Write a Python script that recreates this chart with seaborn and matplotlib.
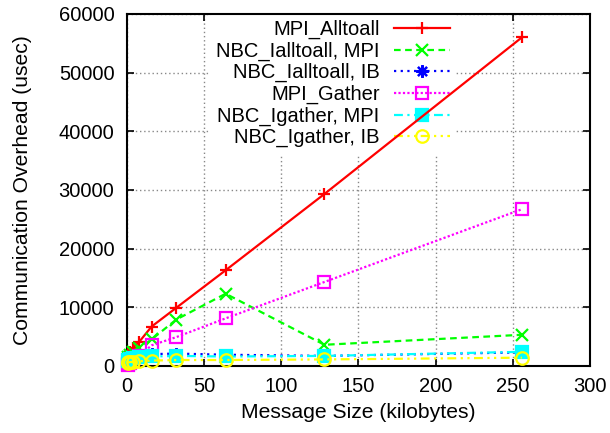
import numpy as np
import pandas as pd
import seaborn as sns
import matplotlib.pyplot as plt

# message sizes in kilobytes
msg_kb = [0.5, 1, 2, 4, 8, 16, 32, 64, 128, 256]

# overhead in usec
mpi_alltoall = [1300, 1800, 2400, 3100, 4100, 6700, 9900, 16300, 29300, 56000]
nbc_ialltoall_mpi = [1200, 1500, 1800, 2300, 3000, 4500, 7900, 12300, 3600, 5300]
nbc_ialltoall_ib = [1300, 1400, 1500, 1600, 1800, 2000, 2100, 1900, 1700, 2300]
mpi_gather = [100, 300, 500, 900, 1700, 3500, 4900, 8100, 14300, 26700]
nbc_igather_mpi = [900, 1000, 1100, 1300, 1500, 1600, 1700, 1600, 1700, 2400]
nbc_igather_ib = [500, 600, 650, 700, 800, 900, 1000, 1000, 1100, 1400]

series = [
    ("MPI_Alltoall", mpi_alltoall, "#ff0000", "-", "+", "#ff0000"),
    ("NBC_Ialltoall, MPI", nbc_ialltoall_mpi, "#00ff00", (0, (3, 2)), "x", "#00ff00"),
    ("NBC_Ialltoall, IB", nbc_ialltoall_ib, "#0000ff", (0, (1, 2)), (8, 2, 0), "#0000ff"),
    ("MPI_Gather", mpi_gather, "#ff00ff", (0, (1, 1)), "s", "none"),
    ("NBC_Igather, MPI", nbc_igather_mpi, "#00ffff", (0, (4, 2, 1, 2)), "s", "#00ffff"),
    ("NBC_Igather, IB", nbc_igather_ib, "#ffff00", (0, (4, 2, 1, 2, 1, 2)), "o", "none"),
]

plt.rcParams['font.family'] = ['Liberation Sans', 'DejaVu Sans']
fig = plt.figure(figsize=(6.1, 4.33), dpi=100)
ax = fig.add_axes([0.208, 0.155, 0.759, 0.813])

for name, vals, col, ls, mk, fc in series:
    df = pd.DataFrame({"size": msg_kb, "overhead": vals})
    sns.lineplot(data=df, x="size", y="overhead", ax=ax, color=col, linestyle=ls,
                 linewidth=1.6, marker=mk, markersize=9, markerfacecolor=fc,
                 markeredgecolor=col, markeredgewidth=1.6, label=name,
                 clip_on=False, zorder=3)

ax.set_xlim(0, 300)
ax.set_ylim(0, 60000)
ax.set_xticks(np.arange(0, 301, 50))
ax.set_yticks(np.arange(0, 60001, 10000))
ax.grid(True, color="#888888", linestyle=(0, (1, 2)), linewidth=1)
ax.set_axisbelow(True)
ax.tick_params(direction="in", top=True, right=True, labelsize=14.5, length=5, width=1.2)
ax.tick_params(axis="y", pad=9)
ax.tick_params(axis="x", pad=8)
for sp in ax.spines.values():
    sp.set_linewidth(1.5)
ax.set_xlabel("Message Size (kilobytes)", fontsize=15.2, labelpad=5)
ax.set_ylabel("Communication Overhead (usec)", fontsize=15.2, labelpad=19)

# handles on the right, so the labels line up on their right edge
leg = ax.legend(loc="upper right", bbox_to_anchor=(0.711, 1.0), markerfirst=False,
                frameon=True, fontsize=14.5, handlelength=2.8, labelspacing=0.12,
                borderpad=0.3, handletextpad=0.7, borderaxespad=0.0)
leg.get_frame().set_edgecolor("none")
leg.get_frame().set_facecolor("white")
leg.get_frame().set_alpha(1)
leg.set_zorder(1)

fig.savefig("out.png", dpi=100)
